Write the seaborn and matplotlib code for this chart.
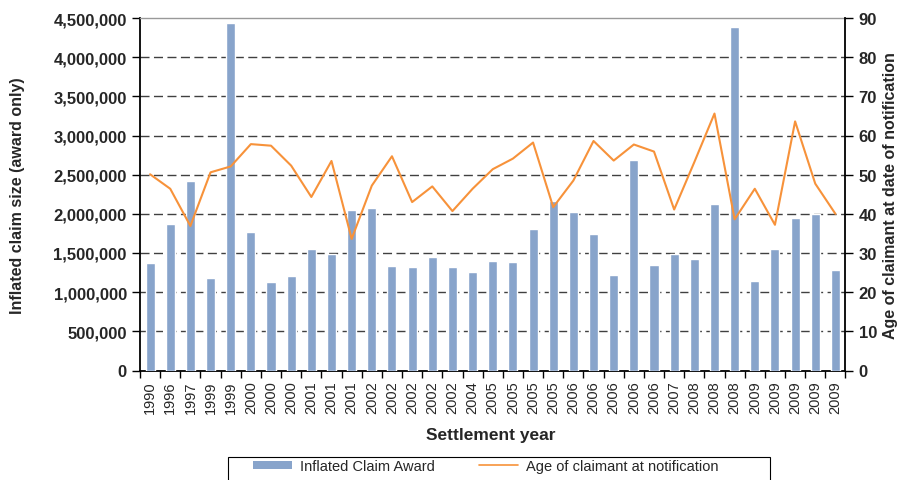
import matplotlib
matplotlib.use("Agg")
import matplotlib.pyplot as plt
import seaborn as sns
import pandas as pd
import numpy as np
from matplotlib.patches import Patch, Rectangle
from matplotlib.lines import Line2D
from matplotlib.ticker import FuncFormatter, FixedLocator

years = ["1990", "1996", "1997", "1999", "1999", "2000", "2000", "2000", "2001", "2001",
         "2001", "2002", "2002", "2002", "2002", "2002", "2004", "2005", "2005", "2005",
         "2005", "2006", "2006", "2006", "2006", "2006", "2007", "2008", "2008", "2008",
         "2009", "2009", "2009", "2009", "2009"]

award = [1377000, 1869000, 2417000, 1185000, 4433000, 1767000, 1134000, 1211000, 1556000, 1492000,
         2047000, 2073000, 1339000, 1326000, 1454000, 1326000, 1262000, 1403000, 1390000, 1805000,
         2162000, 2022000, 1741000, 1224000, 2685000, 1352000, 1492000, 1428000, 2125000, 4382000,
         1147000, 1556000, 1945000, 1992000, 1288000]

age = [50.1, 46.4, 36.9, 50.6, 52.1, 57.8, 57.4, 52.3, 44.3, 53.5,
       33.6, 47.2, 54.7, 43.0, 47.0, 40.7, 46.4, 51.4, 54.1, 58.2,
       41.7, 48.5, 58.6, 53.6, 57.7, 55.9, 41.1, 53.2, 65.6, 38.6,
       46.4, 37.2, 63.6, 47.7, 40.0]

bar_label = "Inflated Claim Award"
line_label = "Age of claimant at notification"

df = pd.DataFrame({"idx": np.arange(len(years)), "award": award, "age": age})

sns.set_theme(style="white")
plt.rcParams["font.family"] = ["Liberation Sans", "DejaVu Sans"]

BAR_C = "#88A4CB"
LINE_C = "#F7923A"
W, H = 898, 481

fig = plt.figure(figsize=(W/100, H/100), dpi=100)
ax = fig.add_axes([140/W, 1 - 371.5/H, (845.5-140)/W, (371.5-19)/H])

sns.barplot(data=df, x="idx", y="award", color=BAR_C, width=0.45, ax=ax,
            saturation=1, errorbar=None, zorder=3)
ax.set_ylim(0, 4500000)
ax.set_xlim(-0.5, len(years) - 0.5)
ax.set_yticks(np.arange(0, 4500001, 500000))
ax.yaxis.set_major_formatter(FuncFormatter(lambda v, p: f"{int(v):,}"))
for v in np.arange(500000, 4000001, 500000):
    ax.axhline(v, color="#404040", lw=1.0, ls=(0, (6.5, 3.2)), zorder=1)

ax.set_xticks(np.arange(len(years)))
ax.set_xticklabels(years, rotation=90, fontsize=10.5)
ax.xaxis.set_minor_locator(FixedLocator(np.arange(-0.5, len(years), 1)))
ax.tick_params(axis="x", which="major", length=0, pad=7)
ax.tick_params(axis="x", which="minor", length=5, width=1, color="black", direction="out", bottom=True)
ax.tick_params(axis="y", which="major", length=6, width=1, color="black", direction="out", left=True, labelsize=12)
for lab in ax.get_yticklabels():
    lab.set_fontweight("bold")

ax.set_xlabel("Settlement year", fontsize=12.5, fontweight="bold")
ax.xaxis.set_label_coords((491-140)/705.5, (371.5-436)/352.5)
ax.xaxis.label.set_va("center")
ax.set_ylabel("Inflated claim size (award only)", fontsize=11.5, fontweight="bold")
ax.yaxis.set_label_coords((17-140)/705.5, 0.5)
ax.yaxis.label.set_va("center")

for s in ["left", "bottom"]:
    ax.spines[s].set_color("black")
    ax.spines[s].set_linewidth(1.3)
ax.spines["top"].set_color("#999999")
ax.spines["top"].set_linewidth(1.0)
ax.spines["right"].set_visible(False)

ax2 = ax.twinx()
sns.lineplot(data=df, x="idx", y="age", color=LINE_C, lw=1.5, ax=ax2, zorder=4)
ax2.set_ylim(0, 90)
ax2.set_xlim(-0.5, len(years) - 0.5)
ax2.set_yticks(np.arange(0, 91, 10))
ax2.tick_params(axis="y", which="major", length=6, width=1, color="black", direction="out", right=True, labelsize=12)
for lab in ax2.get_yticklabels():
    lab.set_fontweight("bold")
ax2.set_ylabel("Age of claimant at date of notification", fontsize=11.5, fontweight="bold", rotation=90)
ax2.yaxis.set_label_coords((891-140)/705.5, 0.5)
ax2.yaxis.label.set_va("center")
for s in ["left", "top", "bottom"]:
    ax2.spines[s].set_visible(False)
ax2.spines["right"].set_color("black")
ax2.spines["right"].set_linewidth(1.3)
ax2.grid(False)
ax.grid(False)

handles = [Patch(facecolor=BAR_C, edgecolor="none"),
           Line2D([0], [0], color=LINE_C, lw=1.2)]
leg = fig.legend(handles, [bar_label, line_label], loc="center left",
                 bbox_to_anchor=(253/W, 1 - 467/H), ncol=2, frameon=False,
                 fontsize=10.5, handlelength=2.7, handleheight=0.45,
                 handletextpad=0.55, columnspacing=3.0, borderpad=0, borderaxespad=0)
fig.add_artist(Rectangle((228/W, -0.01), (770-228)/W, 0.01 + (481-458)/H,
                         transform=fig.transFigure, fill=False, edgecolor="black", lw=0.8))

fig.savefig("out.png", dpi=100)
